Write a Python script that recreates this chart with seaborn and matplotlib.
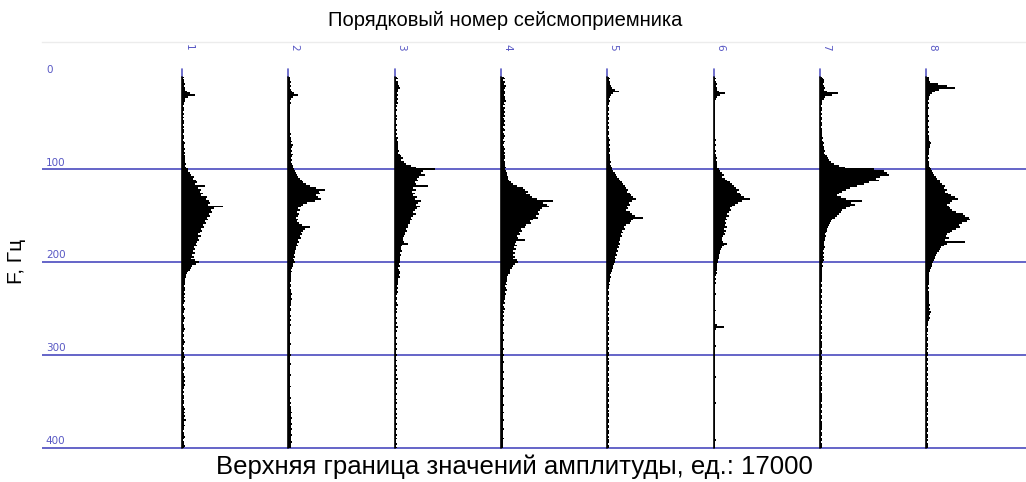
import numpy as np
import pandas as pd
import matplotlib
matplotlib.use("Agg")
import matplotlib.pyplot as plt
import matplotlib.transforms as mtransforms
import seaborn as sns

# frequency grid, Hz (step 2 Hz)
freq = np.arange(0, 401, 2)

# amplitude spectra per geophone, thousands of units (scale: 17 = trace spacing)
amp1 = [
    0.3, 0.2, 0.3, 0.3, 0.4, 0.3, 0.5, 0.4, 0.8, 1.2,
    2.1, 0.9, 0.5, 0.4, 0.3, 0.3, 0.2, 0.3, 0.3, 0.2,
    0.3, 0.2, 0.3, 0.2, 0.3, 0.3, 0.2, 0.3, 0.2, 0.3,
    0.3, 0.2, 0.3, 0.3, 0.2, 0.3, 0.4, 0.3, 0.3, 0.4,
    0.3, 0.4, 0.3, 0.4, 0.5, 0.4, 0.5, 0.6, 0.5, 0.6,
    0.9, 1.0, 1.3, 1.5, 1.9, 1.7, 2.2, 2.4, 2.1, 3.7,
    2.6, 3.0, 2.8, 3.4, 3.1, 4.0, 3.8, 4.3, 4.5, 4.1,
    6.5, 5.1, 4.6, 4.8, 4.3, 4.5, 4.0, 4.2, 3.6, 3.8,
    3.4, 3.5, 3.0, 3.2, 2.9, 2.6, 3.0, 2.5, 2.7, 2.4,
    2.2, 2.4, 1.9, 2.1, 1.8, 2.0, 1.6, 1.9, 1.5, 2.1,
    2.7, 2.3, 1.6, 1.4, 1.3, 1.0, 0.8, 0.7, 0.6, 0.5,
    0.4, 0.5, 0.4, 0.3, 0.4, 0.5, 0.3, 0.4, 0.3, 0.4,
    0.3, 0.4, 0.3, 0.2, 0.3, 0.4, 0.3, 0.3, 0.2, 0.3,
    0.4, 0.3, 0.3, 0.2, 0.3, 0.3, 0.4, 0.3, 0.2, 0.3,
    0.3, 0.2, 0.3, 0.4, 0.3, 0.2, 0.3, 0.3, 0.2, 0.3,
    0.3, 0.4, 0.3, 0.3, 0.2, 0.3, 0.3, 0.4, 0.3, 0.2,
    0.3, 0.3, 0.4, 0.3, 0.4, 0.3, 0.4, 0.3, 0.3, 0.2,
    0.3, 0.2, 0.3, 0.3, 0.2, 0.3, 0.3, 0.2, 0.3, 0.4,
    0.3, 0.5, 0.3, 0.4, 0.3, 0.6, 0.3, 0.3, 0.4, 0.3,
    0.3, 0.2, 0.3, 0.3, 0.4, 0.3, 0.2, 0.3, 0.3, 0.4,
    0.3,
]
amp2 = [
    0.3, 0.2, 0.3, 0.4, 0.3, 0.4, 0.3, 0.5, 0.6, 0.9,
    1.6, 0.7, 0.4, 0.3, 0.4, 0.3, 0.3, 0.2, 0.3, 0.3,
    0.2, 0.3, 0.3, 0.2, 0.3, 0.2, 0.3, 0.3, 0.2, 0.3,
    0.3, 0.4, 0.3, 0.5, 0.4, 0.6, 0.5, 0.7, 0.6, 0.5,
    0.6, 0.5, 0.7, 0.6, 0.5, 0.6, 0.5, 0.6, 0.7, 0.8,
    0.9, 1.1, 1.3, 1.4, 1.6, 1.8, 2.2, 2.4, 2.8, 3.4,
    4.5, 5.8, 4.9, 5.1, 4.4, 4.7, 5.3, 4.2, 3.0, 2.4,
    2.0, 1.6, 1.8, 1.4, 1.7, 1.5, 1.3, 1.6, 1.4, 1.7,
    2.2, 3.4, 2.6, 2.4, 2.0, 2.2, 1.8, 2.0, 1.6, 1.7,
    1.4, 1.6, 1.2, 1.3, 1.0, 1.1, 0.9, 1.0, 0.8, 0.9,
    1.0, 0.8, 0.7, 0.6, 0.5, 0.6, 0.5, 0.4, 0.5, 0.4,
    0.4, 0.3, 0.4, 0.5, 0.3, 0.5, 0.4, 0.6, 0.4, 0.5,
    0.6, 0.4, 0.5, 0.4, 0.3, 0.4, 0.5, 0.3, 0.3, 0.4,
    0.3, 0.4, 0.3, 0.3, 0.4, 0.3, 0.2, 0.3, 0.4, 0.3,
    0.3, 0.2, 0.3, 0.3, 0.4, 0.3, 0.3, 0.2, 0.3, 0.3,
    0.4, 0.3, 0.3, 0.2, 0.3, 0.4, 0.3, 0.3, 0.2, 0.3,
    0.3, 0.4, 0.3, 0.3, 0.2, 0.3, 0.3, 0.4, 0.3, 0.3,
    0.3, 0.2, 0.3, 0.4, 0.3, 0.3, 0.4, 0.3, 0.4, 0.5,
    0.4, 0.6, 0.4, 0.5, 0.6, 0.4, 0.5, 0.6, 0.4, 0.5,
    0.6, 0.4, 0.5, 0.6, 0.5, 0.4, 0.5, 0.6, 0.4, 0.5,
    0.4,
]
amp3 = [
    0.4, 0.5, 0.3, 0.6, 0.5, 0.7, 0.8, 0.6, 0.5, 0.4,
    0.5, 0.4, 0.6, 0.4, 0.5, 0.3, 0.4, 0.3, 0.4, 0.3,
    0.3, 0.4, 0.3, 0.4, 0.3, 0.3, 0.4, 0.3, 0.3, 0.4,
    0.3, 0.4, 0.3, 0.5, 0.4, 0.5, 0.6, 0.5, 0.6, 0.5,
    0.7, 0.6, 0.8, 1.0, 1.3, 1.1, 1.5, 1.8, 2.6, 3.4,
    6.5, 4.6, 4.2, 4.8, 3.9, 3.6, 3.7, 3.2, 3.5, 5.3,
    3.0, 3.4, 2.8, 3.2, 3.0, 3.6, 3.3, 4.3, 3.8, 3.5,
    4.1, 3.6, 3.3, 3.0, 3.4, 2.9, 2.6, 2.8, 2.4, 2.5,
    2.1, 2.2, 1.9, 2.0, 1.7, 1.6, 1.5, 1.4, 1.3, 1.5,
    2.1, 1.2, 1.1, 1.0, 1.2, 0.9, 1.0, 0.8, 0.9, 0.8,
    0.9, 0.7, 0.8, 0.6, 0.7, 0.8, 0.9, 0.7, 0.8, 0.6,
    0.6, 0.5, 0.6, 0.4, 0.5, 0.4, 0.5, 0.4, 0.3, 0.4,
    0.4, 0.3, 0.4, 0.5, 0.3, 0.4, 0.3, 0.4, 0.3, 0.3,
    0.4, 0.3, 0.3, 0.4, 0.3, 0.5, 0.3, 0.4, 0.3, 0.3,
    0.3, 0.4, 0.3, 0.3, 0.4, 0.3, 0.3, 0.4, 0.3, 0.3,
    0.4, 0.3, 0.3, 0.4, 0.3, 0.3, 0.4, 0.3, 0.4, 0.3,
    0.3, 0.4, 0.3, 0.5, 0.3, 0.4, 0.3, 0.3, 0.4, 0.3,
    0.3, 0.4, 0.3, 0.3, 0.4, 0.3, 0.4, 0.3, 0.3, 0.4,
    0.3, 0.3, 0.4, 0.3, 0.4, 0.3, 0.3, 0.4, 0.3, 0.3,
    0.4, 0.3, 0.3, 0.4, 0.3, 0.4, 0.3, 0.3, 0.4, 0.3,
    0.4,
]
amp4 = [
    0.5, 0.6, 0.4, 0.7, 0.5, 0.8, 0.6, 0.5, 0.7, 0.6,
    0.5, 0.7, 0.6, 0.8, 0.5, 0.6, 0.4, 0.7, 0.5, 0.6,
    0.5, 0.6, 0.4, 0.5, 0.7, 0.5, 0.6, 0.4, 0.5, 0.6,
    0.4, 0.5, 0.6, 0.5, 0.4, 0.6, 0.5, 0.4, 0.5, 0.6,
    0.5, 0.6, 0.5, 0.7, 0.6, 0.5, 0.7, 0.6, 0.7, 0.8,
    0.7, 0.8, 0.9, 1.0, 1.2, 1.1, 1.3, 1.6, 2.0, 2.6,
    3.5, 3.8, 4.3, 4.0, 4.6, 5.0, 5.8, 8.3, 6.8, 7.4,
    7.7, 6.5, 6.2, 5.9, 6.1, 5.6, 6.0, 5.2, 4.6, 4.8,
    4.0, 3.8, 3.2, 3.4, 2.9, 3.1, 2.6, 2.8, 3.8, 2.4,
    2.3, 2.5, 2.1, 2.4, 2.0, 2.2, 1.9, 2.3, 2.0, 2.5,
    2.7, 2.2, 1.9, 1.7, 1.5, 1.4, 1.5, 1.2, 1.0, 0.9,
    0.9, 0.8, 0.9, 0.7, 0.8, 0.9, 0.7, 0.8, 0.6, 0.7,
    0.6, 0.5, 0.6, 0.4, 0.5, 0.6, 0.4, 0.5, 0.4, 0.5,
    0.4, 0.5, 0.3, 0.4, 0.5, 0.4, 0.3, 0.4, 0.5, 0.4,
    0.3, 0.4, 0.5, 0.4, 0.3, 0.4, 0.4, 0.5, 0.3, 0.4,
    0.5, 0.4, 0.3, 0.4, 0.5, 0.4, 0.4, 0.3, 0.4, 0.5,
    0.4, 0.3, 0.4, 0.5, 0.4, 0.3, 0.4, 0.4, 0.5, 0.4,
    0.3, 0.4, 0.5, 0.4, 0.4, 0.3, 0.4, 0.5, 0.4, 0.3,
    0.4, 0.5, 0.4, 0.3, 0.4, 0.5, 0.4, 0.4, 0.3, 0.4,
    0.5, 0.4, 0.3, 0.4, 0.4, 0.5, 0.4, 0.3, 0.4, 0.4,
    0.3,
]
amp5 = [
    0.3, 0.4, 0.3, 0.5, 0.4, 0.6, 0.8, 1.2, 1.9, 1.0,
    0.6, 0.4, 0.3, 0.4, 0.3, 0.3, 0.2, 0.3, 0.3, 0.2,
    0.3, 0.2, 0.3, 0.3, 0.2, 0.3, 0.2, 0.3, 0.3, 0.2,
    0.3, 0.3, 0.2, 0.3, 0.4, 0.3, 0.3, 0.4, 0.3, 0.4,
    0.4, 0.3, 0.4, 0.5, 0.4, 0.5, 0.6, 0.5, 0.6, 0.7,
    0.8, 1.0, 1.2, 1.4, 1.6, 1.9, 2.0, 2.3, 2.6, 2.8,
    3.0, 3.4, 3.2, 3.6, 3.8, 4.2, 4.6, 4.0, 3.5, 3.7,
    3.2, 3.4, 3.0, 3.6, 4.0, 4.4, 5.8, 4.2, 3.8, 3.6,
    3.0, 2.7, 2.8, 2.4, 2.5, 2.2, 2.3, 2.0, 2.1, 1.9,
    2.1, 1.8, 1.9, 1.6, 1.7, 1.4, 1.5, 1.3, 1.4, 1.2,
    1.3, 1.1, 1.0, 0.9, 0.8, 0.7, 0.6, 0.5, 0.6, 0.5,
    0.4, 0.3, 0.4, 0.3, 0.3, 0.2, 0.3, 0.3, 0.2, 0.3,
    0.3, 0.2, 0.3, 0.3, 0.2, 0.3, 0.3, 0.2, 0.3, 0.2,
    0.3, 0.3, 0.2, 0.3, 0.2, 0.3, 0.3, 0.2, 0.3, 0.3,
    0.2, 0.3, 0.3, 0.2, 0.3, 0.2, 0.3, 0.3, 0.2, 0.3,
    0.3, 0.2, 0.3, 0.2, 0.3, 0.3, 0.2, 0.3, 0.3, 0.2,
    0.3, 0.3, 0.2, 0.3, 0.3, 0.2, 0.3, 0.2, 0.3, 0.3,
    0.2, 0.3, 0.3, 0.2, 0.3, 0.3, 0.2, 0.3, 0.3, 0.2,
    0.3, 0.2, 0.3, 0.3, 0.2, 0.3, 0.3, 0.2, 0.3, 0.3,
    0.2, 0.3, 0.3, 0.2, 0.3, 0.2, 0.3, 0.3, 0.2, 0.3,
    0.3,
]
amp6 = [
    0.3, 0.4, 0.3, 0.4, 0.5, 0.4, 0.6, 0.5, 0.9, 1.9,
    1.0, 0.5, 0.4, 0.3, 0.3, 0.2, 0.3, 0.3, 0.2, 0.3,
    0.2, 0.3, 0.3, 0.2, 0.3, 0.3, 0.2, 0.3, 0.3, 0.2,
    0.3, 0.2, 0.3, 0.3, 0.4, 0.3, 0.3, 0.4, 0.3, 0.3,
    0.4, 0.3, 0.4, 0.4, 0.5, 0.4, 0.5, 0.5, 0.6, 0.5,
    0.8, 1.0, 1.3, 1.6, 1.4, 1.8, 2.1, 2.6, 2.9, 3.2,
    3.6, 4.0, 3.7, 4.2, 4.4, 4.8, 5.8, 4.6, 3.9, 3.5,
    3.0, 2.6, 2.8, 2.4, 2.2, 2.5, 2.0, 2.1, 1.8, 2.0,
    1.9, 2.1, 1.7, 2.0, 1.6, 1.8, 1.5, 1.4, 1.3, 1.5,
    2.1, 1.6, 1.4, 1.2, 1.1, 1.0, 0.9, 0.8, 0.9, 0.7,
    0.7, 0.6, 0.5, 0.6, 0.5, 0.4, 0.5, 0.4, 0.3, 0.4,
    0.3, 0.4, 0.3, 0.3, 0.2, 0.3, 0.3, 0.4, 0.3, 0.3,
    0.2, 0.3, 0.3, 0.2, 0.3, 0.3, 0.4, 0.3, 0.3, 0.2,
    0.3, 0.3, 0.2, 0.3, 0.6, 1.6, 0.4, 0.3, 0.3, 0.2,
    0.3, 0.3, 0.2, 0.3, 0.3, 0.4, 0.3, 0.2, 0.3, 0.3,
    0.2, 0.3, 0.3, 0.2, 0.3, 0.3, 0.2, 0.3, 0.3, 0.2,
    0.3, 0.3, 0.4, 0.3, 0.2, 0.3, 0.3, 0.2, 0.3, 0.3,
    0.2, 0.3, 0.3, 0.2, 0.3, 0.3, 0.4, 0.3, 0.3, 0.2,
    0.3, 0.3, 0.2, 0.3, 0.3, 0.2, 0.3, 0.3, 0.2, 0.3,
    0.3, 0.2, 0.3, 0.3, 0.2, 0.3, 0.4, 0.3, 0.3, 0.2,
    0.3,
]
amp7 = [
    0.3, 0.5, 0.6, 0.7, 0.5, 0.7, 0.8, 0.6, 1.2, 2.9,
    2.0, 0.8, 0.6, 0.4, 0.3, 0.3, 0.2, 0.3, 0.3, 0.2,
    0.3, 0.2, 0.3, 0.3, 0.2, 0.3, 0.3, 0.2, 0.3, 0.4,
    0.3, 0.4, 0.3, 0.5, 0.4, 0.5, 0.6, 0.5, 0.7, 0.6,
    0.8, 0.7, 0.9, 1.1, 1.3, 1.4, 1.8, 2.2, 3.0, 4.0,
    8.6, 10.2, 10.8, 11.0, 9.6, 9.0, 9.4, 7.8, 7.0, 6.0,
    4.8, 4.2, 3.6, 3.0, 2.8, 3.4, 4.2, 6.7, 5.0, 5.6,
    4.9, 4.2, 3.6, 3.4, 3.0, 2.8, 2.4, 2.0, 1.8, 1.6,
    1.5, 1.3, 1.2, 1.1, 1.0, 0.9, 1.0, 0.8, 0.9, 0.7,
    0.7, 0.6, 0.8, 0.6, 0.5, 0.7, 0.5, 0.6, 0.5, 0.6,
    0.5, 0.4, 0.5, 0.4, 0.3, 0.4, 0.3, 0.4, 0.3, 0.3,
    0.3, 0.2, 0.3, 0.3, 0.2, 0.3, 0.3, 0.2, 0.3, 0.3,
    0.2, 0.3, 0.3, 0.2, 0.3, 0.2, 0.3, 0.3, 0.2, 0.3,
    0.3, 0.2, 0.3, 0.3, 0.2, 0.3, 0.3, 0.2, 0.3, 0.2,
    0.3, 0.3, 0.2, 0.3, 0.3, 0.4, 0.3, 0.2, 0.3, 0.3,
    0.2, 0.3, 0.3, 0.2, 0.3, 0.3, 0.2, 0.3, 0.3, 0.2,
    0.3, 0.2, 0.3, 0.3, 0.2, 0.3, 0.3, 0.2, 0.3, 0.3,
    0.2, 0.3, 0.3, 0.4, 0.3, 0.3, 0.2, 0.3, 0.3, 0.2,
    0.3, 0.3, 0.2, 0.3, 0.3, 0.2, 0.3, 0.3, 0.4, 0.3,
    0.3, 0.2, 0.3, 0.3, 0.2, 0.3, 0.3, 0.2, 0.3, 0.3,
    0.3,
]
amp8 = [
    0.4, 0.5, 0.4, 0.6, 1.9, 3.4, 4.6, 2.0, 1.4, 1.0,
    0.6, 0.5, 0.4, 0.3, 0.4, 0.3, 0.3, 0.4, 0.3, 0.3,
    0.3, 0.4, 0.3, 0.3, 0.4, 0.3, 0.3, 0.4, 0.3, 0.3,
    0.4, 0.3, 0.4, 0.5, 0.4, 0.6, 0.8, 0.7, 0.6, 0.5,
    0.4, 0.5, 0.4, 0.3, 0.4, 0.3, 0.4, 0.4, 0.5, 0.6,
    0.8, 0.9, 1.1, 1.3, 1.6, 1.8, 2.2, 2.3, 2.6, 3.0,
    2.8, 3.3, 3.0, 3.5, 4.0, 4.6, 5.1, 4.2, 3.8, 3.4,
    3.6, 3.9, 4.2, 4.8, 5.9, 6.2, 6.8, 7.0, 6.5, 5.8,
    5.2, 5.5, 4.8, 4.2, 3.8, 3.4, 3.2, 3.6, 3.0, 6.2,
    3.3, 2.8, 2.4, 2.2, 2.0, 1.8, 1.6, 1.5, 1.4, 1.2,
    1.1, 1.0, 0.9, 0.8, 0.7, 0.6, 0.5, 0.5, 0.4, 0.5,
    0.4, 0.5, 0.4, 0.3, 0.4, 0.3, 0.4, 0.5, 0.4, 0.5,
    0.4, 0.5, 0.4, 0.6, 0.5, 0.7, 0.5, 0.8, 0.6, 0.5,
    0.6, 0.4, 0.3, 0.3, 0.3, 0.2, 0.3, 0.3, 0.2, 0.3,
    0.2, 0.3, 0.3, 0.2, 0.3, 0.3, 0.2, 0.3, 0.2, 0.3,
    0.3, 0.2, 0.3, 0.3, 0.2, 0.3, 0.2, 0.3, 0.3, 0.2,
    0.3, 0.3, 0.2, 0.3, 0.2, 0.3, 0.3, 0.2, 0.3, 0.3,
    0.2, 0.3, 0.3, 0.2, 0.3, 0.2, 0.3, 0.3, 0.2, 0.3,
    0.3, 0.2, 0.3, 0.2, 0.3, 0.3, 0.2, 0.3, 0.3, 0.2,
    0.3, 0.3, 0.2, 0.3, 0.3, 0.2, 0.3, 0.2, 0.3, 0.3,
    0.3,
]

traces = [amp1, amp2, amp3, amp4, amp5, amp6, amp7, amp8]
trace_labels = ["1", "2", "3", "4", "5", "6", "7", "8"]
freq_ticks = [0, 100, 200, 300, 400]
full_scale = 17.0  # thousands of units per trace spacing

title = "Порядковый номер сейсмоприемника"
ylabel = "F, Гц"
footer = "Верхняя граница значений амплитуды, ед.: 17000"

sns.set_theme(style="white")
plt.rcParams["font.family"] = ["Liberation Sans", "DejaVu Sans"]

blue = "#5858c4"

# long table for seaborn
rows = []
for i, a in enumerate(traces, start=1):
    for f, v in zip(freq, a):
        rows.append({"trace": i, "freq": f, "amp": v, "base": i})
df = pd.DataFrame(rows)

fig = plt.figure(figsize=(10.26, 4.82), dpi=100)
ax = fig.add_axes([42 / 1026, 1 - 455 / 482, 1 - 42 / 1026, (455 - 42) / 482])

for f in freq_ticks[1:]:
    ax.axhline(f, color=blue, lw=1.3, zorder=1)

for i, a in enumerate(traces, start=1):
    sub = df[df["trace"] == i]
    ax.fill_betweenx(sub["freq"], i, i + sub["amp"] / full_scale,
                     step="mid", color="black", lw=0, zorder=2)
    ax.plot([i, i], [-8, 0], color=blue, lw=1.2, zorder=3)

sns.lineplot(data=df, x="base", y="freq", units="trace", estimator=None,
             orient="y", color="black", lw=1.2, ax=ax, zorder=3, legend=False)

ax.set_xlim(1 + (42 - 182) / 106.3, 1 + (1026 - 182) / 106.3)
ax.set_ylim(407.8, -37.3)
ax.set_xticks([])
ax.set_yticks([])
ax.set_xlabel("")
ax.set_ylabel("")
for s in ["left", "right", "bottom"]:
    ax.spines[s].set_visible(False)
ax.spines["top"].set_color("#ececec")
ax.spines["top"].set_linewidth(1.0)

ytr = mtransforms.blended_transform_factory(ax.transAxes, ax.transData)
for f in freq_ticks:
    ax.text(0.004, f - 2, str(f), transform=ytr, ha="left", va="bottom",
            fontsize=7.5, color=blue, family="DejaVu Sans")

xtr = mtransforms.blended_transform_factory(ax.transData, ax.transAxes)
for i, lab in enumerate(trace_labels, start=1):
    ax.text(i + 0.06, 0.987, lab, transform=xtr, ha="center", va="center",
            rotation=270, fontsize=7.5, color=blue, family="DejaVu Sans")

fig.text(505 / 1026, 1 - 21 / 482, title, ha="center", va="center",
         fontsize=14.5, color="black")
fig.text(17 / 1026, 1 - 261 / 482, ylabel, ha="center", va="center",
         rotation=90, fontsize=15, color="black")
fig.text(514 / 1026, 1 - 467 / 482, footer, ha="center", va="center",
         fontsize=18.5, color="black")

fig.savefig("out.png", dpi=100, facecolor="white")
